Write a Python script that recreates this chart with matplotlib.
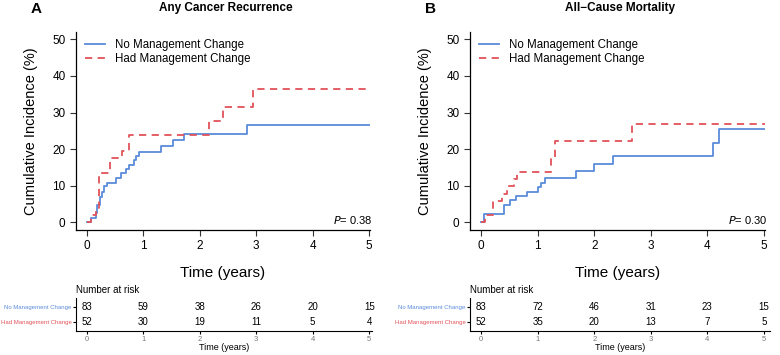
import matplotlib
matplotlib.use("Agg")
import matplotlib.pyplot as plt

plt.rcParams["font.family"] = ["Liberation Sans", "DejaVu Sans"]

# ── data (step curves) ─────────────────────────────────────────────────
GROUPS = ["No Management Change", "Had Management Change"]
RISK_TIMES = [0, 1, 2, 3, 4, 5]

# Panel A: Any Cancer Recurrence
a_no_t = [0, 0.08, 0.16, 0.19, 0.235, 0.27, 0.31, 0.35, 0.51, 0.60, 0.69,
          0.75, 0.84, 0.88, 0.93, 1.32, 1.52, 1.72, 2.83, 5.08]
a_no_y = [0, 1.2, 2.5, 4.8, 7.0, 8.4, 9.8, 10.8, 12.0, 13.4, 14.5,
          15.7, 16.9, 18.0, 19.2, 20.8, 22.4, 24.2, 26.6, 26.6]
a_had_t = [0, 0.08, 0.16, 0.22, 0.41, 0.63, 0.74, 2.17, 2.42, 2.95, 5.08]
a_had_y = [0, 1.9, 3.8, 13.6, 17.5, 19.6, 23.8, 27.7, 31.5, 36.3, 36.3]
a_risk_no = [83, 59, 38, 26, 20, 15]
a_risk_had = [52, 30, 19, 11, 5, 4]
a_p = "0.38"

# Panel B: All-Cause Mortality
b_no_t = [0, 0.05, 0.41, 0.50, 0.62, 0.80, 1.00, 1.06, 1.13, 1.68, 1.99,
          2.33, 4.10, 4.21, 5.09]
b_no_y = [0, 2.4, 4.8, 6.0, 7.2, 8.4, 9.6, 10.8, 12.2, 14.0, 15.9,
          18.0, 21.7, 25.4, 25.4]
b_had_t = [0, 0.06, 0.21, 0.37, 0.45, 0.58, 0.64, 1.23, 1.30, 2.66, 5.05]
b_had_y = [0, 2.0, 5.9, 7.8, 9.8, 11.8, 13.8, 17.8, 22.2, 26.8, 26.8]
b_risk_no = [83, 72, 46, 31, 23, 15]
b_risk_had = [52, 35, 20, 13, 7, 5]
b_p = "0.30"

BLUE = "#5B8BDA"
RED = "#E2535B"
W, H = 780, 355


def rect(l, t, r, b):
    return [l / W, 1 - b / H, (r - l) / W, (b - t) / H]


def panel(fig, x_off, letter, title, no_t, no_y, had_t, had_y,
          risk_no, risk_had, pval, xlim, right_px, risk_right_px):
    left = x_off
    ax = fig.add_axes(rect(left, 32, right_px, 230))
    ax.step(no_t, no_y, where="post", color=BLUE, lw=1.3, label=GROUPS[0])
    ax.step(had_t, had_y, where="post", color=RED, lw=1.3,
            dashes=(4, 3), label=GROUPS[1])
    ax.set_xlim(*xlim)
    ax.set_ylim(-2.1, 52.0)
    ax.set_xticks(RISK_TIMES)
    ax.set_yticks([0, 10, 20, 30, 40, 50])
    ax.tick_params(labelsize=8.5, length=4, width=0.8, color="#333333")
    ax.spines["top"].set_visible(False)
    ax.spines["right"].set_visible(False)
    for s in ("left", "bottom"):
        ax.spines[s].set_linewidth(0.9)
    ax.set_ylabel("Cumulative Incidence (%)", fontsize=10.5, labelpad=10)
    ax.set_xlabel("Time (years)", fontsize=11, labelpad=10)
    ax.legend(loc="upper left", bbox_to_anchor=(0.008, 1.0), frameon=False,
              fontsize=8.3, handlelength=1.75, handletextpad=0.8,
              labelspacing=0.15, borderaxespad=0.2)
    ax.text(1.01, 0.02, "$\\it{P}$= " + pval, transform=ax.transAxes,
            ha="right", va="bottom", fontsize=8)
    fig.text((left + 150) / W, 1 - 8 / H, title, ha="center", va="center",
             fontsize=8.5, fontweight="bold")
    fig.text((left - 40) / W, 1 - 9 / H, letter, ha="center", va="center",
             fontsize=11, fontweight="bold")

    # risk table
    rk = fig.add_axes(rect(left, 298, risk_right_px, 331))
    rk.set_xlim(xlim[0], xlim[0] + (xlim[1] - xlim[0]) * (risk_right_px - left) / (right_px - left))
    rk.set_ylim(-0.62, 1.58)
    for t, n in zip(RISK_TIMES, risk_no):
        rk.text(t, 1, str(n), ha="center", va="center", fontsize=7)
    for t, n in zip(RISK_TIMES, risk_had):
        rk.text(t, 0, str(n), ha="center", va="center", fontsize=7)
    rk.set_yticks([1, 0])
    rk.set_yticklabels(GROUPS, fontsize=4.3)
    for lab, c in zip(rk.get_yticklabels(), [BLUE, RED]):
        lab.set_color(c)
    rk.set_xticks(RISK_TIMES)
    rk.tick_params(axis="x", labelsize=5.5, labelcolor="#777777", length=2,
                   pad=1.5)
    rk.tick_params(axis="y", length=2, pad=1)
    rk.spines["top"].set_visible(False)
    rk.spines["right"].set_visible(False)
    rk.set_xlabel("Time (years)", fontsize=6.5, labelpad=0)
    rk.text(0, 1.1, "Number at risk", transform=rk.transAxes, ha="left",
            va="bottom", fontsize=7)


fig = plt.figure(figsize=(7.8, 3.55), dpi=100)
panel(fig, 76, "A", "Any Cancer Recurrence", a_no_t, a_no_y, a_had_t, a_had_y,
      a_risk_no, a_risk_had, a_p, (-0.19, 5.014), 370, 372)
panel(fig, 470, "B", "All\u2212Cause Mortality", b_no_t, b_no_y, b_had_t, b_had_y,
      b_risk_no, b_risk_had, b_p, (-0.2, 5.02), 765, 770)

fig.savefig("out.png", dpi=100)
